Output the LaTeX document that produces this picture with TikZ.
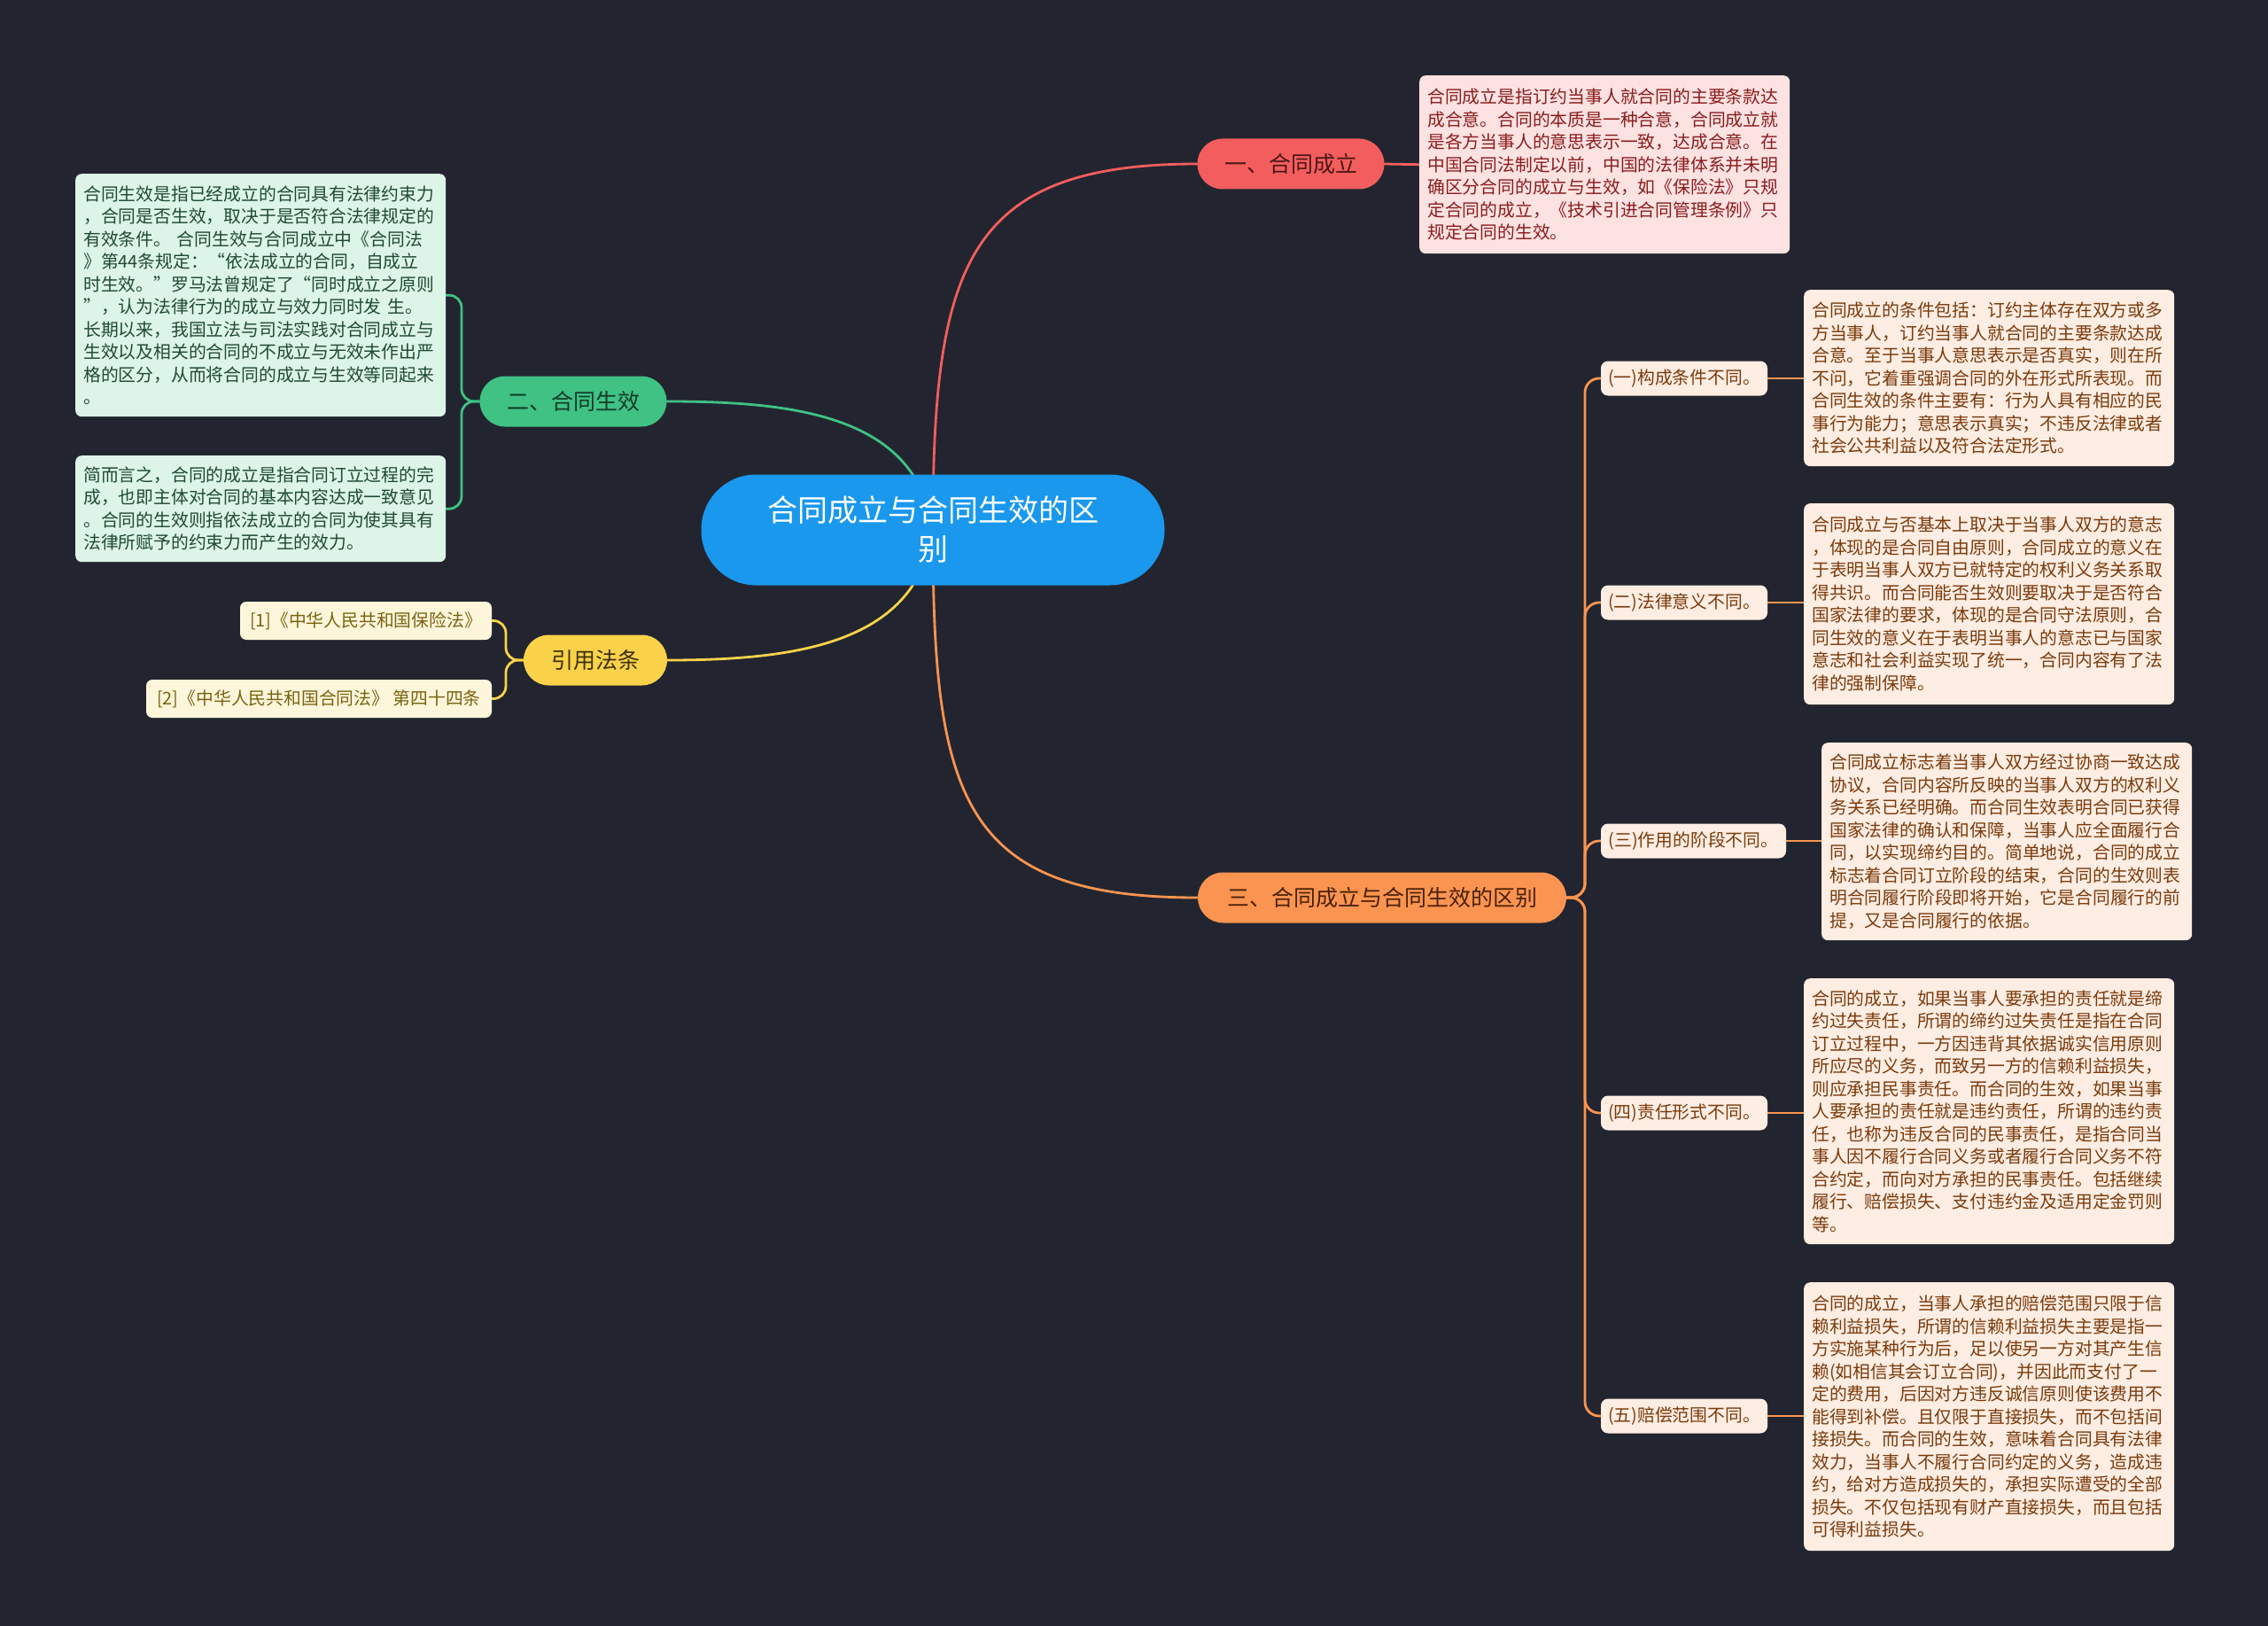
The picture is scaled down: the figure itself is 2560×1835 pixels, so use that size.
\documentclass[tikz,border=0pt]{standalone}
\usepackage{fontspec}
\setmainfont{Noto Sans CJK SC}
\definecolor{bg}{HTML}{22252F}
\definecolor{rootfill}{HTML}{1A98EE}
\definecolor{cred}{HTML}{F45D5D}
\definecolor{credtext}{HTML}{4A1818}
\definecolor{pinkbox}{HTML}{FDE2E2}
\definecolor{pinktext}{HTML}{8A1C1C}
\definecolor{cgreen}{HTML}{3FC284}
\definecolor{cgreentext}{HTML}{153A28}
\definecolor{greenbox}{HTML}{DDF4E8}
\definecolor{greenboxtext}{HTML}{1F4A33}
\definecolor{cyellow}{HTML}{FAD24A}
\definecolor{cyellowtext}{HTML}{3D3005}
\definecolor{citebox}{HTML}{FDF6DA}
\definecolor{citetext}{HTML}{7A6212}
\definecolor{corange}{HTML}{FA9450}
\definecolor{corangetext}{HTML}{4A2208}
\definecolor{peachbox}{HTML}{FEEDE2}
\definecolor{peachtext}{HTML}{7A3A0C}
\pgfdeclarelayer{bglayer}
\pgfdeclarelayer{edges}
\pgfsetlayers{bglayer,edges,main}
\tikzset{
  rootnode/.style={fill=rootfill, text=white, rounded corners=62pt, minimum width=523pt, minimum height=125pt, align=center, inner sep=0pt, font=\fontsize{34}{44}\selectfont},
  branch/.style={rounded corners=28.5pt, minimum height=57pt, inner sep=0pt, font=\fontsize{25}{30}\selectfont},
  subitem/.style={fill=peachbox, text=peachtext, rounded corners=8pt, minimum height=39pt, inner sep=0pt, font=\fontsize{19.8}{24}\selectfont},
  citenode/.style={fill=citebox, text=citetext, rounded corners=7pt, minimum height=43pt, inner sep=0pt, font=\fontsize{19.8}{24}\selectfont},
  textbox/.style={rounded corners=7pt, anchor=north west, text width=400pt, inner xsep=9pt, inner ysep=0pt, align=left, font=\fontsize{19.8}{25.5}\selectfont},
  pinkstyle/.style={textbox, fill=pinkbox, text=pinktext},
  greenstyle/.style={textbox, fill=greenbox, text=greenboxtext},
  peachstyle/.style={textbox, fill=peachbox, text=peachtext},
  edge/.style={line width=2.8pt, line cap=round},
}
\begin{document}
\begin{tikzpicture}[x=1pt,y=-1pt]
\begin{pgfonlayer}{bglayer}
\fill[bg] (0,0) rectangle (2560,1835);
\end{pgfonlayer}
\useasboundingbox (0,0) rectangle (2560,1835);

% root
\node[rootnode] (root) at (1053,598) {合同成立与合同生效的区\\别};

% branches
\node[branch, fill=cred, text=credtext, minimum width=211pt] (b1) at (1457,185) {一、合同成立};
\node[branch, fill=cgreen, text=cgreentext, minimum width=211pt] (b2) at (647,453) {二、合同生效};
\node[branch, fill=cyellow, text=cyellowtext, minimum width=162pt] (b4) at (672,745) {引用法条};
\node[branch, fill=corange, text=corangetext, minimum width=416pt] (b3) at (1560,1013) {三、合同成立与合同生效的区别};

% branch 1 detail
\node[pinkstyle, minimum height=201pt] (t1) at (1602,85) {合同成立是指订约当事人就合同的主要条款达\\成合意。合同的本质是一种合意，合同成立就\\是各方当事人的意思表示一致，达成合意。在\\中国合同法制定以前，中国的法律体系并未明\\确区分合同的成立与生效，如《保险法》只规\\定合同的成立，《技术引进合同管理条例》只\\规定合同的生效。};

% branch 2 details
\node[greenstyle, minimum height=274pt] (g1) at (85,196) {合同生效是指已经成立的合同具有法律约束力\\，合同是否生效，取决于是否符合法律规定的\\有效条件。 合同生效与合同成立中《合同法\\》第44条规定：“依法成立的合同，自成立\\时生效。”罗马法曾规定了“同时成立之原则\\”，认为法律行为的成立与效力同时发 生。\\长期以来，我国立法与司法实践对合同成立与\\生效以及相关的合同的不成立与无效未作出严\\格的区分，从而将合同的成立与生效等同起来\\。};
\node[greenstyle, minimum height=120pt] (g2) at (85,514) {简而言之，合同的成立是指合同订立过程的完\\成，也即主体对合同的基本内容达成一致意见\\。合同的生效则指依法成立的合同为使其具有\\法律所赋予的约束力而产生的效力。};

% citations
\node[citenode, minimum width=284pt] (c1) at (413,700.5) {[1]《中华人民共和国保险法》};
\node[citenode, minimum width=390pt] (c2) at (360,788.5) {[2]《中华人民共和国合同法》 第四十四条};

% branch 3 sub items
\node[subitem, minimum width=188pt] (s1) at (1901,427) {(一)构成条件不同。};
\node[subitem, minimum width=188pt] (s2) at (1901,680) {(二)法律意义不同。};
\node[subitem, minimum width=209pt] (s3) at (1911.5,949) {(三)作用的阶段不同。};
\node[subitem, minimum width=188pt] (s4) at (1901,1256) {(四)责任形式不同。};
\node[subitem, minimum width=188pt] (s5) at (1901,1598) {(五)赔偿范围不同。};

% branch 3 details
\node[peachstyle, minimum height=199pt] (d1) at (2036,327) {合同成立的条件包括：订约主体存在双方或多\\方当事人，订约当事人就合同的主要条款达成\\合意。至于当事人意思表示是否真实，则在所\\不问，它着重强调合同的外在形式所表现。而\\合同生效的条件主要有：行为人具有相应的民\\事行为能力；意思表示真实；不违反法律或者\\社会公共利益以及符合法定形式。};
\node[peachstyle, minimum height=227pt] (d2) at (2036,568) {合同成立与否基本上取决于当事人双方的意志\\，体现的是合同自由原则，合同成立的意义在\\于表明当事人双方已就特定的权利义务关系取\\得共识。而合同能否生效则要取决于是否符合\\国家法律的要求，体现的是合同守法原则，合\\同生效的意义在于表明当事人的意志已与国家\\意志和社会利益实现了统一，合同内容有了法\\律的强制保障。};
\node[peachstyle, minimum height=223pt] (d3) at (2056,838) {合同成立标志着当事人双方经过协商一致达成\\协议，合同内容所反映的当事人双方的权利义\\务关系已经明确。而合同生效表明合同已获得\\国家法律的确认和保障，当事人应全面履行合\\同，以实现缔约目的。简单地说，合同的成立\\标志着合同订立阶段的结束，合同的生效则表\\明合同履行阶段即将开始，它是合同履行的前\\提，又是合同履行的依据。};
\node[peachstyle, minimum height=300pt] (d4) at (2036,1104) {合同的成立，如果当事人要承担的责任就是缔\\约过失责任，所谓的缔约过失责任是指在合同\\订立过程中，一方因违背其依据诚实信用原则\\所应尽的义务，而致另一方的信赖利益损失，\\则应承担民事责任。而合同的生效，如果当事\\人要承担的责任就是违约责任，所谓的违约责\\任，也称为违反合同的民事责任，是指合同当\\事人因不履行合同义务或者履行合同义务不符\\合约定，而向对方承担的民事责任。包括继续\\履行、赔偿损失、支付违约金及适用定金罚则\\等。};
\node[peachstyle, minimum height=303pt] (d5) at (2036,1447) {合同的成立，当事人承担的赔偿范围只限于信\\赖利益损失，所谓的信赖利益损失主要是指一\\方实施某种行为后，足以使另一方对其产生信\\赖(如相信其会订立合同)，并因此而支付了一\\定的费用，后因对方违反诚信原则使该费用不\\能得到补偿。且仅限于直接损失，而不包括间\\接损失。而合同的生效，意味着合同具有法律\\效力，当事人不履行合同约定的义务，造成违\\约，给对方造成损失的，承担实际遭受的全部\\损失。不仅包括现有财产直接损失，而且包括\\可得利益损失。};

\begin{pgfonlayer}{edges}
% root to branches
\draw[edge, cred] (root.center) .. controls (1053,300) and (1090,185) .. (b1.west);
\draw[edge, cgreen] (root.center) .. controls (1035,470) and (900,453) .. (b2.east);
\draw[edge, cyellow] (root.center) .. controls (1035,726) and (900,745) .. (b4.east);
\draw[edge, corange] (root.center) .. controls (1053,900) and (1085,1013) .. (b3.west);
% branch 1
\draw[edge, cred] (b1.east) -- (t1.west);
% branch 2 bracket
\draw[edge, cgreen, rounded corners=14pt] (b2.west) -- (521,453) |- (g1.east);
\draw[edge, cgreen, rounded corners=14pt] (b2.west) -- (521,453) |- (g2.east);
% citations bracket
\draw[edge, cyellow, rounded corners=14pt] (b4.west) -- (571,745) |- (c1.east);
\draw[edge, cyellow, rounded corners=14pt] (b4.west) -- (571,745) |- (c2.east);
% branch 3 bracket
\foreach \s in {s1,s2,s3,s4,s5}{
  \draw[edge, corange, rounded corners=16pt] (b3.east) -- (1789,1013) |- (\s.west);
}
\draw[edge, corange] (s1.east) -- (d1.west |- s1.east);
\draw[edge, corange] (s2.east) -- (d2.west |- s2.east);
\draw[edge, corange] (s3.east) -- (d3.west |- s3.east);
\draw[edge, corange] (s4.east) -- (d4.west |- s4.east);
\draw[edge, corange] (s5.east) -- (d5.west |- s5.east);
\end{pgfonlayer}
\end{tikzpicture}
\end{document}
